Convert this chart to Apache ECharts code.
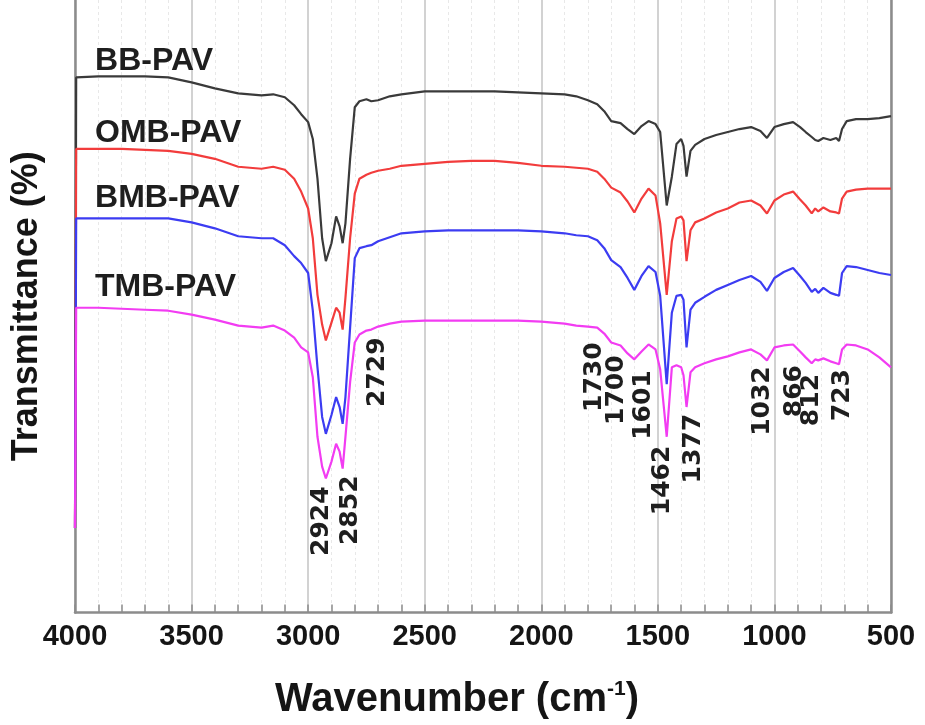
<!DOCTYPE html>
<html><head><meta charset="utf-8">
<script src="https://cdn.jsdelivr.net/npm/echarts@6/dist/echarts.min.js"></script>
<style>html,body{margin:0;padding:0;background:#fff}#c{width:925px;height:725px}</style>
</head><body><div id="c"></div>
<script>
// ---- data (wavenumber in cm^-1, transmittance in arbitrary offset units) ----
const wavenumbers = [4000,3995,3900,3800,3700,3600,3500,3400,3300,3200,3150,3100,3060,3030,3000,2980,2960,2940,2924,2900,2880,2865,2852,2840,2820,2800,2780,2750,2729,2700,2650,2600,2500,2400,2300,2200,2100,2000,1900,1850,1800,1760,1730,1700,1660,1630,1601,1570,1540,1510,1490,1462,1440,1420,1400,1390,1377,1360,1340,1300,1250,1200,1150,1100,1060,1032,1000,960,920,890,866,840,825,812,790,760,735,723,710,690,650,600,550,500];
const bbPAV  = [85,539,540,540,540,539,534,528,523,521,522,519,511,502,494,477,437,377,354,372,399,389,372,392,457,509,515,517,515,516,520,522,525,525,525,525,524,523,522,520,516,512,505,495,493,487,482,490,495,492,484,410,439,472,477,470,439,465,471,477,481,484,487,489,485,478,489,492,494,489,484,479,476,475,478,476,478,475,487,495,497,497,498,500];
const ombPAV = [85,467,467,467,466,465,462,457,449,447,449,446,437,424,407,377,320,290,274,292,307,302,285,317,377,422,437,441,443,445,447,450,452,454,455,455,453,450,449,448,447,444,437,428,423,414,403,417,427,420,392,320,374,397,399,395,354,385,393,397,403,407,413,415,410,402,415,421,424,416,410,402,407,404,408,404,403,402,417,424,426,427,427,427];
const bmbPAV = [85,397,397,397,397,397,393,387,379,377,377,370,359,352,342,304,247,197,180,199,217,207,190,217,287,357,367,369,370,374,378,382,384,385,385,385,385,384,382,380,379,375,367,355,348,337,325,339,349,343,319,230,302,319,320,315,267,305,312,318,325,330,335,339,333,324,337,343,347,339,332,323,326,322,327,322,320,319,342,349,348,345,342,340];
const tmbPAV = [85,307,307,306,305,304,300,295,289,287,289,284,277,267,262,237,177,147,135,152,170,162,145,177,232,272,280,284,285,288,291,293,294,294,294,294,294,293,291,289,288,287,281,272,269,261,255,263,270,265,245,177,247,249,247,239,207,242,247,251,255,258,262,265,260,254,267,269,270,263,257,251,255,254,256,253,251,250,265,270,269,265,257,247];
const seriesNames = ['BB-PAV','OMB-PAV','BMB-PAV','TMB-PAV'];
const peakLabels = [2924,2852,2729,1730,1700,1601,1462,1377,1032,866,812,723];
const xTickMin = 500, xTickMax = 4000, xTickStep = 500;

// ---- layout / style ----
const colors = ['#3a3a3a','#f23c3c','#3c3cf2','#f23cf2'];
const nameAnchor = {x: 3914, y: [555,483,417,328]};
const peakLayout = [[-4,92],[8,103],[6,242],[-10,237],[5,224],[9,209],[-4,133],[7,165],[-4,213],[-11,223],[-7,214],[3,219]];
const FONT = 'Liberation Sans, Arial, sans-serif';

const allSeries = [bbPAV, ombPAV, bmbPAV, tmbPAV];
const chart = echarts.init(document.getElementById('c'), null, {renderer:'canvas'});
const axisGray = '#8c8c8c';
chart.setOption({
  animation: false,
  backgroundColor: '#fff',
  grid: {left: 75, right: 34, top: 0, bottom: 108},
  xAxis: {
    type: 'value', inverse: true, min: xTickMin, max: xTickMax, interval: xTickStep,
    axisLine: {show: true, onZero: false, lineStyle: {color: axisGray, width: 2.5}},
    axisTick: {show: true, inside: true, length: 8, lineStyle: {color: axisGray, width: 1.5}},
    minorTick: {show: true, splitNumber: 5, length: 8, lineStyle: {color: axisGray, width: 1.5}},
    splitLine: {show: true, lineStyle: {color: '#d2d2d2', width: 2}},
    minorSplitLine: {show: true, lineStyle: {color: '#e8e8e8', width: 1, type: [3, 3]}},
    axisLabel: {margin: 10, fontSize: 29, fontWeight: 'bold', color: '#151515', fontFamily: FONT,
      formatter: v => String(v)},
    name: 'Wavenumber (cm{sup|-1})',
    nameLocation: 'middle', nameGap: 66,
    nameTextStyle: {fontSize: 40, fontWeight: 'bold', color: '#151515', fontFamily: FONT, padding: [0, 52, 0, 0],
      rich: {sup: {fontSize: 21, fontWeight: 'bold', color: '#151515', fontFamily: FONT, padding: [0, 0, 22, 0]}}}
  },
  yAxis: [{
    type: 'value', min: 0, max: 617,
    axisLine: {show: true, onZero: false, lineStyle: {color: axisGray, width: 2.5}},
    axisTick: {show: false}, axisLabel: {show: false}, splitLine: {show: false},
    name: 'Transmittance (%)', nameLocation: 'middle', nameGap: 30,
    nameTextStyle: {fontSize: 36, fontWeight: 'bold', color: '#151515', fontFamily: FONT}
  }, {
    type: 'value', min: 0, max: 617, position: 'right',
    axisLine: {show: true, onZero: false, lineStyle: {color: axisGray, width: 2.5}},
    axisTick: {show: false}, axisLabel: {show: false}, splitLine: {show: false}
  }],
  series: allSeries.map((vals, i) => ({
    name: seriesNames[i], type: 'line', showSymbol: false, symbol: 'none',
    data: wavenumbers.map((w, k) => [w, vals[k]]),
    lineStyle: {color: colors[i], width: 2.2}, z: 2 + i
  }))
});

// text annotations anchored through the chart's own scales
const g = [];
seriesNames.forEach((n, i) => {
  const p = chart.convertToPixel({xAxisIndex: 0, yAxisIndex: 0}, [nameAnchor.x, nameAnchor.y[i]]);
  g.push({type: 'text', x: p[0], y: p[1], z: 20,
    style: {text: n, fill: '#1e1e1e', font: 'bold 32px ' + FONT, align: 'left', verticalAlign: 'middle'}});
});
peakLabels.forEach((w, i) => {
  const p = chart.convertToPixel({xAxisIndex: 0, yAxisIndex: 0}, [w, peakLayout[i][1]]);
  g.push({type: 'text', x: p[0] + peakLayout[i][0], y: p[1], rotation: Math.PI / 2, z: 20,
    style: {text: String(w), fill: '#1e1e1e', font: 'bold 25px DejaVu Sans, sans-serif', align: 'center', verticalAlign: 'middle'}});
});
chart.setOption({graphic: g});
</script></body></html>
